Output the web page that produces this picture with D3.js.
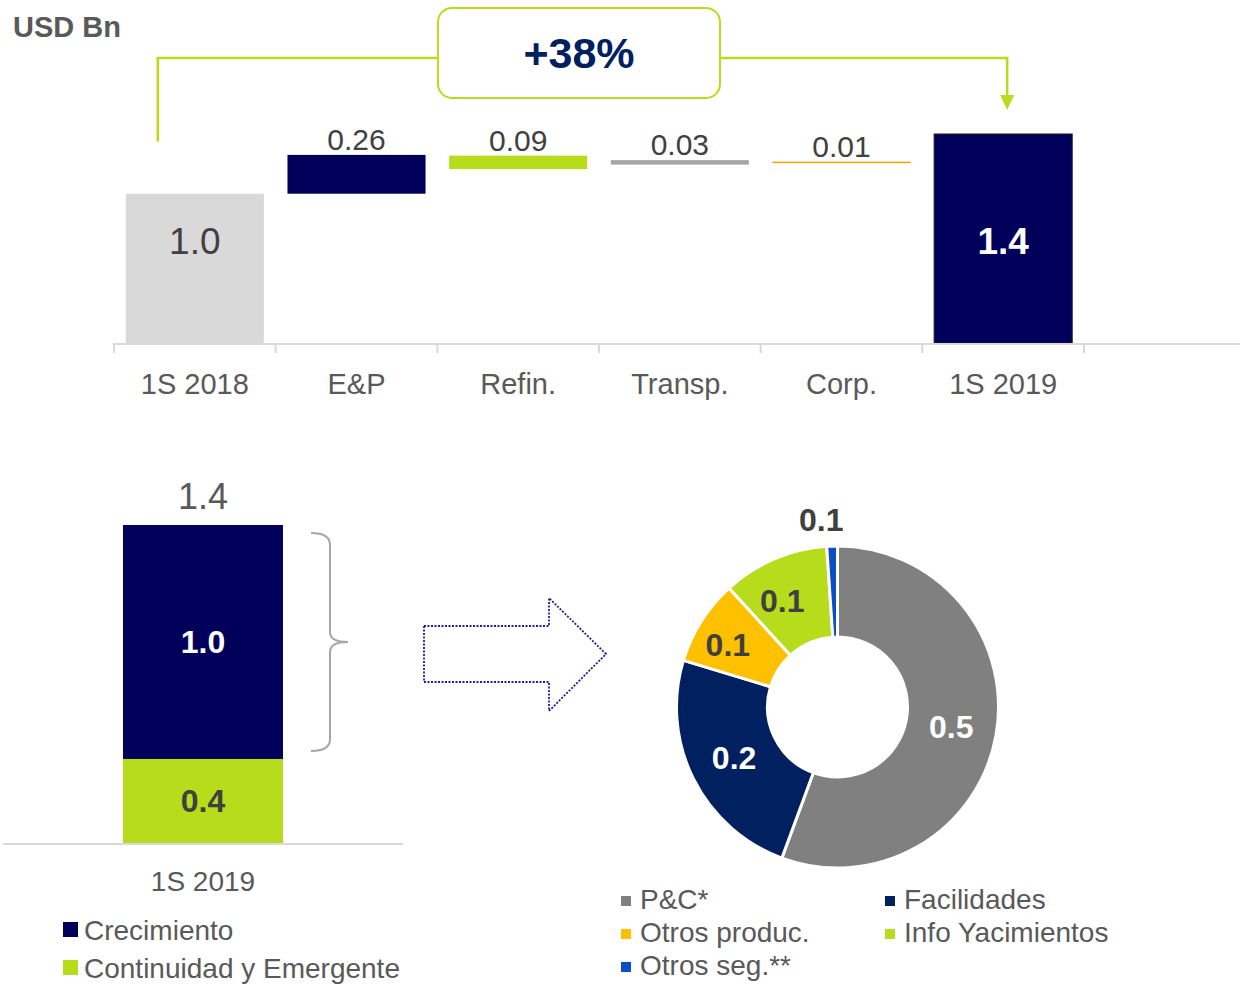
<!DOCTYPE html>
<html>
<head>
<meta charset="utf-8">
<script src="https://cdn.jsdelivr.net/npm/d3@7"></script>
<style>
body { margin:0; background:#fff; }
svg text { font-family: "Liberation Sans", Arial, sans-serif; }
</style>
</head>
<body>
<div id="chart"></div>
<script>
// waterfall
const wfCategories = ["1S 2018","E&P","Refin.","Transp.","Corp.","1S 2019"]
const wfValues = [1.0, 0.26, 0.09, 0.03, 0.01, 1.4]
const wfBases = [0, 1.0, 1.165, 1.195, 1.205, 0]
const wfLabels = ["1.0","0.26","0.09","0.03","0.01","1.4"]
const growthLabel = "+38%"

// stacked bar
const stackCategory = ["1S 2019"]
const stackSeries = ["Crecimiento","Continuidad y Emergente"]
const stackValues = [1.03, 0.37]

// donut
const donutCategories = ["P&C*","Facilidades","Otros produc.","Info Yacimientos","Otros seg.**"]
const donutValues = [0.52, 0.225, 0.08, 0.1, 0.01]
const donutLabels = ["0.5","0.2","0.1","0.1","0.1"]

const navy = "#00005a"
const lime = "#b7dc1c"
const wfColors = ["#d9d9d9", navy, lime, "#a6a6a6", "#f5a000", navy]
const stackColors = [navy, lime]
const donutColors = ["#808080","#002060","#ffc000","#b7dc1c","#0a4fc4"]
const textGray = "#595959"
const darkText = "#404040"

const width = 1240
const height = 984

const svg = d3.select("#chart")
.append("svg")
.attr("width",width)
.attr("height",height)

// ---------- top waterfall ----------
const x = d3.scaleBand()
.domain(wfCategories)
.range([114,1084])
.paddingInner(0.146)
.paddingOuter(0.073)

const y = d3.scaleLinear()
.domain([0,1.4])
.range([343,134])

svg.append("text")
.attr("x",13)
.attr("y",37)
.attr("font-size",29)
.attr("font-weight","bold")
.attr("fill",textGray)
.text("USD Bn")

svg.selectAll(".wf")
.data(wfCategories)
.enter()
.append("rect")
.attr("x",d=>x(d))
.attr("width",x.bandwidth())
.attr("y",(d,i)=>y(wfBases[i]+wfValues[i]))
.attr("height",(d,i)=>Math.max(1.5,y(wfBases[i])-y(wfBases[i]+wfValues[i])))
.attr("fill",(d,i)=>wfColors[i])
.attr("stroke",(d,i)=>i===5?"#1a1a1a":"none")
.attr("stroke-width",1)

// axis line + ticks
svg.append("line")
.attr("x1",114).attr("x2",1240)
.attr("y1",y(0)+1).attr("y2",y(0)+1)
.attr("stroke","#d9d9d9").attr("stroke-width",2)

const step = x.step()
svg.selectAll(".tick")
.data(d3.range(wfCategories.length+1))
.enter()
.append("line")
.attr("x1",i=>114+i*step).attr("x2",i=>114+i*step)
.attr("y1",y(0)).attr("y2",y(0)+10)
.attr("stroke","#d9d9d9").attr("stroke-width",2)

svg.selectAll(".xlab")
.data(wfCategories)
.enter()
.append("text")
.attr("x",d=>x(d)+x.bandwidth()/2)
.attr("y",394)
.attr("text-anchor","middle")
.attr("font-size",29)
.attr("fill",textGray)
.text(d=>d)

// labels: totals inside, deltas above
const insideLevel = 0.68
svg.selectAll(".wflab")
.data(wfCategories)
.enter()
.append("text")
.attr("x",d=>x(d)+x.bandwidth()/2)
.attr("y",(d,i)=> wfBases[i]===0 ? y(insideLevel)+13 : y(wfBases[i]+wfValues[i])-5)
.attr("text-anchor","middle")
.attr("font-size",(d,i)=>wfBases[i]===0?37:30)
.attr("font-weight",(d,i)=>i===5?"bold":"normal")
.attr("fill",(d,i)=>i===5?"#fff":darkText)
.text((d,i)=>wfLabels[i])

// growth bracket
const xStart = x(wfCategories[0])+32
const xEnd = x(wfCategories[5])+x.bandwidth()/2+4
svg.append("path")
.attr("d",`M${xStart},${y(1.35)} V58 H438 M720,58 H${xEnd} V96`)
.attr("fill","none")
.attr("stroke",lime)
.attr("stroke-width",2.5)

svg.append("path")
.attr("d",`M${xEnd-7},95 L${xEnd+7},95 L${xEnd},110 Z`)
.attr("fill",lime)

svg.append("rect")
.attr("x",438).attr("y",8)
.attr("width",282).attr("height",90)
.attr("rx",14)
.attr("fill","#fff")
.attr("stroke",lime)
.attr("stroke-width",2)

svg.append("text")
.attr("x",579)
.attr("y",68)
.attr("text-anchor","middle")
.attr("font-size",43)
.attr("font-weight","bold")
.attr("fill","#002060")
.text(growthLabel)

// ---------- bottom-left stacked bar ----------
const xs = d3.scaleBand()
.domain(stackCategory)
.range([3,403])
.paddingInner(0.6)
.paddingOuter(0.3)

const ys = d3.scaleLinear()
.domain([0,1.4])
.range([843,525])

const stackData = [{cat:stackCategory[0], a:stackValues[0], b:stackValues[1]}]
const stack = d3.stack().keys(["b","a"])(stackData)

svg.selectAll(".stk")
.data(stack)
.enter()
.append("rect")
.attr("x",xs(stackCategory[0]))
.attr("width",xs.bandwidth())
.attr("y",d=>ys(d[0][1]))
.attr("height",d=>ys(d[0][0])-ys(d[0][1]))
.attr("fill",d=>d.key==="a"?stackColors[0]:stackColors[1])

const cx0 = xs(stackCategory[0])+xs.bandwidth()/2

svg.selectAll(".stklab")
.data(stack)
.enter()
.append("text")
.attr("x",cx0)
.attr("y",d=>(ys(d[0][0])+ys(d[0][1]))/2+11)
.attr("text-anchor","middle")
.attr("font-size",32)
.attr("font-weight","bold")
.attr("fill",d=>d.key==="a"?"#fff":darkText)
.text(d=>d3.format(".1f")(d[0][1]-d[0][0]))

const total = d3.sum(stackValues)
svg.append("text")
.attr("x",cx0)
.attr("y",ys(total)-16)
.attr("text-anchor","middle")
.attr("font-size",36)
.attr("fill",textGray)
.text(d3.format(".1f")(total))

svg.append("line")
.attr("x1",3).attr("x2",403)
.attr("y1",844).attr("y2",844)
.attr("stroke","#d9d9d9").attr("stroke-width",2)

svg.append("text")
.attr("x",cx0)
.attr("y",891)
.attr("text-anchor","middle")
.attr("font-size",28)
.attr("fill",textGray)
.text(stackCategory[0])

// brace
const bTop = ys(total)+8
const bBot = ys(stackValues[1])-8
const bMid = (bTop+bBot)/2
svg.append("path")
.attr("d",`M311,${bTop} Q330,${bTop} 330,${bTop+12} L330,${bMid-10} Q330,${bMid} 348,${bMid} Q330,${bMid} 330,${bMid+10} L330,${bBot-12} Q330,${bBot} 311,${bBot}`)
.attr("fill","none")
.attr("stroke","#a6a6a6")
.attr("stroke-width",2)

const leg1 = svg.selectAll(".leg1")
.data(stackSeries)
.enter()
.append("g")
.attr("transform",(d,i)=>`translate(63,${922+i*38})`)

leg1.append("rect")
.attr("width",15).attr("height",15)
.attr("fill",(d,i)=>stackColors[i])

leg1.append("text")
.attr("x",21)
.attr("y",18)
.attr("font-size",28)
.attr("fill",textGray)
.text(d=>d)

// dotted arrow
svg.append("path")
.attr("d","M424,626 H549 V598 L606,654 L549,711 V682 H424 Z")
.attr("fill","none")
.attr("stroke","#20208f")
.attr("stroke-width",1.8)
.attr("stroke-dasharray","2,1.5")

// ---------- donut ----------
const cx = 837.5, cy = 707
const rOuter = 161, rInner = 70

const pie = d3.pie().sort(null).value(d=>d)
const arcs = pie(donutValues)
const arc = d3.arc().innerRadius(rInner).outerRadius(rOuter)

const donut = svg.append("g")
.attr("transform",`translate(${cx},${cy})`)

donut.selectAll("path")
.data(arcs)
.enter()
.append("path")
.attr("d",arc)
.attr("fill",(d,i)=>donutColors[i])
.attr("stroke","#fff")
.attr("stroke-width",3)

const outerArc = d3.arc().innerRadius(rOuter+26).outerRadius(rOuter+26)

donut.selectAll(".dlab")
.data(arcs)
.enter()
.append("text")
.attr("transform",(d,i)=>{
  const c = i===4 ? outerArc.centroid(d) : arc.centroid(d)
  const dx = i===4 ? -10 : (i===2 ? -12 : (i===3 ? -10 : 0))
  return `translate(${c[0]+dx},${c[1]+11})`
})
.attr("text-anchor","middle")
.attr("font-size",32)
.attr("font-weight","bold")
.attr("fill",(d,i)=>i<2?"#fff":darkText)
.text((d,i)=>donutLabels[i])

const leg2 = svg.selectAll(".leg2")
.data(donutCategories)
.enter()
.append("g")
.attr("transform",(d,i)=>`translate(${621+(i%2)*264},${909+Math.floor(i/2)*33})`)

leg2.append("rect")
.attr("y",-13)
.attr("width",10).attr("height",10)
.attr("fill",(d,i)=>donutColors[i])

leg2.append("text")
.attr("x",19)
.attr("y",0)
.attr("font-size",28)
.attr("fill",textGray)
.text(d=>d)
</script>
</body>
</html>
